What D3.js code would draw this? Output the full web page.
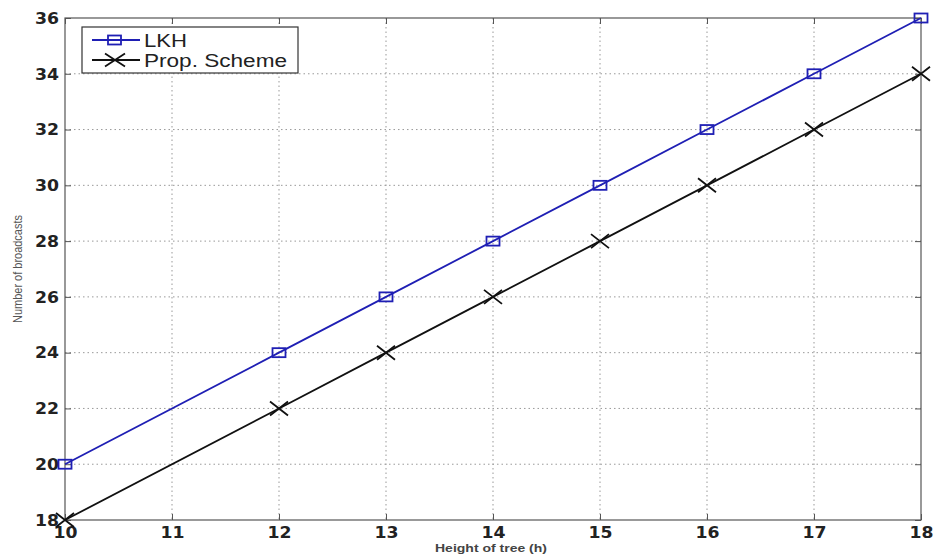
<!DOCTYPE html>
<html>
<head>
<meta charset="utf-8">
<script src="https://cdn.jsdelivr.net/npm/d3@7"></script>
<style>
  body { margin: 0; background: #fff; }
  svg { display: block; font-family: "Liberation Sans", Arial, sans-serif; }
</style>
</head>
<body>
<script>
// Data
var heights = [10, 11, 12, 13, 14, 15, 16, 17, 18]
var lkhX = [10, 12, 13, 14, 15, 16, 17, 18]
var lkhY = [20, 24, 26, 28, 30, 32, 34, 36]
var propX = [10, 12, 13, 14, 15, 16, 17, 18]
var propY = [18, 22, 24, 26, 28, 30, 32, 34]
var yTicks = [18, 20, 22, 24, 26, 28, 30, 32, 34, 36]

var svgW = 938
var svgH = 559
var plotL = 65, plotR = 921, plotT = 18, plotB = 520

var svg = d3.select("body").append("svg")
            .attr("width", svgW)
            .attr("height", svgH)

var xScale = d3.scaleLinear().domain([10, 18]).range([plotL, plotR])
var yScale = d3.scaleLinear().domain([18, 36]).range([plotB, plotT])

// Grid lines (dotted)
svg.append("g").selectAll("line")
   .data(heights.slice(1, -1))
   .enter().append("line")
     .attr("x1", d => xScale(d)).attr("x2", d => xScale(d))
     .attr("y1", plotT).attr("y2", plotB)
     .attr("stroke", "#999").attr("stroke-dasharray", "1.5,3")

svg.append("g").selectAll("line")
   .data(yTicks.slice(1, -1))
   .enter().append("line")
     .attr("x1", plotL).attr("x2", plotR)
     .attr("y1", d => yScale(d)).attr("y2", d => yScale(d))
     .attr("stroke", "#999").attr("stroke-dasharray", "1.5,3")

// Axes with inward ticks
var xAxis = d3.axisBottom(xScale).tickValues(heights).tickSize(-6).tickPadding(6).tickFormat(d3.format("d"))
var yAxis = d3.axisLeft(yScale).tickValues(yTicks).tickSize(-6).tickPadding(6)

svg.append("g").attr("transform", "translate(0," + plotB + ")").call(xAxis)
svg.append("g").attr("transform", "translate(" + plotL + ",0)").call(yAxis)
svg.append("g").attr("transform", "translate(0," + plotT + ")")
   .call(d3.axisTop(xScale).tickValues(heights).tickSize(-6).tickFormat(""))
svg.append("g").attr("transform", "translate(" + plotR + ",0)")
   .call(d3.axisRight(yScale).tickValues(yTicks).tickSize(-6).tickFormat(""))

svg.selectAll(".domain").remove()
svg.selectAll(".tick line").attr("stroke", "#555")
// tick labels are wide in the picture, so stretch them a little
svg.selectAll(".tick text")
   .attr("fill", "#222")
   .attr("textLength", 24)
   .attr("lengthAdjust", "spacingAndGlyphs")
   .style("font-size", "16.5px")
   .style("font-weight", "bold")
   .style("font-family", "'DejaVu Sans', sans-serif")

// Box
svg.append("rect")
   .attr("x", plotL).attr("y", plotT)
   .attr("width", plotR - plotL).attr("height", plotB - plotT)
   .attr("fill", "none").attr("stroke", "#555").attr("stroke-width", 1.2)

// Series
var blue = "#1f1fb4"
var line = d3.line().x(d => xScale(d[0])).y(d => yScale(d[1]))
var lkh = lkhX.map((x, i) => [x, lkhY[i]])
var prop = propX.map((x, i) => [x, propY[i]])

svg.append("path").datum(lkh).attr("d", line)
   .attr("fill", "none").attr("stroke", blue).attr("stroke-width", 1.8)
svg.append("path").datum(prop).attr("d", line)
   .attr("fill", "none").attr("stroke", "#111").attr("stroke-width", 1.8)

svg.append("g").selectAll("rect")
   .data(lkh).enter().append("rect")
     .attr("x", d => xScale(d[0]) - 6.5).attr("y", d => yScale(d[1]) - 4.5)
     .attr("width", 13).attr("height", 9)
     .attr("fill", "none").attr("stroke", blue).attr("stroke-width", 1.8)

function cross(g, cx, cy, sx, sy) {
  g.append("path")
   .attr("d", "M" + (cx - sx) + "," + (cy - sy) + "L" + (cx + sx) + "," + (cy + sy) +
              "M" + (cx - sx) + "," + (cy + sy) + "L" + (cx + sx) + "," + (cy - sy))
   .attr("stroke", "#111").attr("stroke-width", 1.8).attr("fill", "none")
}
var crosses = svg.append("g")
prop.forEach(function(d) { cross(crosses, xScale(d[0]), yScale(d[1]), 9, 7) })

// Axis titles
svg.append("text")
   .attr("x", 491).attr("y", 552)
   .attr("text-anchor", "middle")
   .attr("textLength", 112).attr("lengthAdjust", "spacingAndGlyphs")
   .style("font-size", "11px").style("font-weight", "bold").attr("fill", "#444")
   .text("Height of tree (h)")

svg.append("text")
   .attr("transform", "translate(22,269) rotate(-90)")
   .attr("text-anchor", "middle")
   .attr("textLength", 108).attr("lengthAdjust", "spacingAndGlyphs")
   .style("font-size", "13px").attr("fill", "#555")
   .text("Number of broadcasts")

// Legend
var legend = svg.append("g")
legend.append("rect")
      .attr("x", 82).attr("y", 27).attr("width", 216).attr("height", 46)
      .attr("fill", "#fff").attr("stroke", "#333").attr("stroke-width", 1.2)

legend.append("line").attr("x1", 92).attr("x2", 140).attr("y1", 40).attr("y2", 40)
      .attr("stroke", blue).attr("stroke-width", 1.8)
legend.append("rect").attr("x", 108).attr("y", 35.5).attr("width", 13).attr("height", 9)
      .attr("fill", "none").attr("stroke", blue).attr("stroke-width", 1.8)
legend.append("line").attr("x1", 92).attr("x2", 140).attr("y1", 60).attr("y2", 60)
      .attr("stroke", "#111").attr("stroke-width", 1.8)
cross(legend, 115, 60, 10, 6.5)

legend.append("text").attr("x", 144).attr("y", 47)
      .attr("textLength", 43).attr("lengthAdjust", "spacingAndGlyphs")
      .style("font-size", "18px").attr("fill", "#222").text("LKH")
legend.append("text").attr("x", 144).attr("y", 67)
      .attr("textLength", 143).attr("lengthAdjust", "spacingAndGlyphs")
      .style("font-size", "18px").attr("fill", "#222").text("Prop. Scheme")
</script>
</body>
</html>
